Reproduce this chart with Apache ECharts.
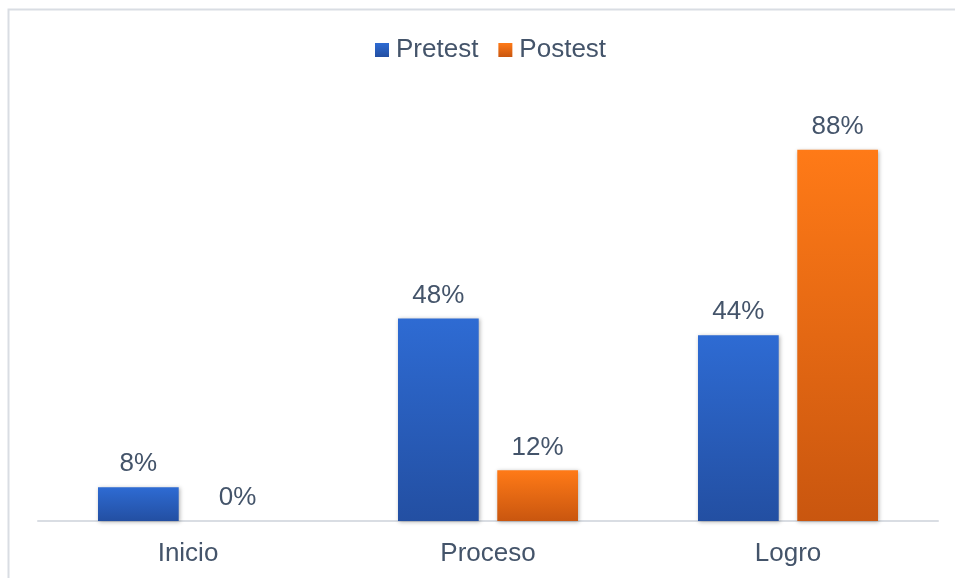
<!DOCTYPE html>
<html>
<head>
<meta charset="utf-8">
<script src="https://cdn.jsdelivr.net/npm/echarts@6/dist/echarts.min.js"></script>
<style>html,body{margin:0;padding:0;background:#fff}#c{width:955px;height:578px}</style>
</head>
<body>
<div id="c"></div>
<script>
const categories = ['Inicio', 'Proceso', 'Logro'];
const pretest = [8, 48, 44];
const postest = [0, 12, 88];
const seriesNames = ['Pretest', 'Postest'];

const chart = echarts.init(document.getElementById('c'), null, {renderer: 'canvas'});
const txt = '#44546A';
const font = '"Liberation Sans", Arial, sans-serif';
function grad(top, bottom) {
  return new echarts.graphic.LinearGradient(0, 0, 0, 1, [
    {offset: 0, color: top}, {offset: 1, color: bottom}
  ]);
}
const lbl = {
  show: true, position: 'top', distance: 10,
  formatter: p => p.value + '%',
  color: txt, fontSize: 26, fontFamily: font
};
chart.setOption({
  animation: false,
  graphic: [{
    type: 'rect', silent: true,
    shape: {x: 8.5, y: 9.5, width: 1000, height: 600},
    style: {fill: null, stroke: '#d9dde3', lineWidth: 2}
  }],
  legend: {
    top: 32, left: 370,
    itemWidth: 14, itemHeight: 14, itemGap: 20,
    icon: 'rect',
    textStyle: {color: txt, fontSize: 26, fontFamily: font, padding: [0, 0, 0, 2]},
    data: seriesNames
  },
  grid: {left: 38, right: 17, top: 99, bottom: 57, containLabel: false},
  xAxis: {
    type: 'category', data: categories,
    axisLine: {lineStyle: {color: '#d9dde3', width: 2}},
    axisTick: {show: false},
    axisLabel: {color: txt, fontSize: 26, fontFamily: font, margin: 20}
  },
  yAxis: {
    type: 'value', min: 0, max: 100, show: false,
    splitLine: {show: false}
  },
  series: [{
    name: seriesNames[0], type: 'bar', data: pretest,
    barGap: '23%', barCategoryGap: '40%',
    itemStyle: {color: grad('#2e6bd3', '#234fa2'), shadowBlur: 4, shadowColor: 'rgba(0,0,0,0.3)', shadowOffsetX: 1, shadowOffsetY: 1},
    label: lbl
  }, {
    name: seriesNames[1], type: 'bar', data: postest,
    itemStyle: {color: grad('#ff7a17', '#c9560f'), shadowBlur: 4, shadowColor: 'rgba(0,0,0,0.3)', shadowOffsetX: 1, shadowOffsetY: 1},
    label: lbl
  }]
});
</script>
</body>
</html>
